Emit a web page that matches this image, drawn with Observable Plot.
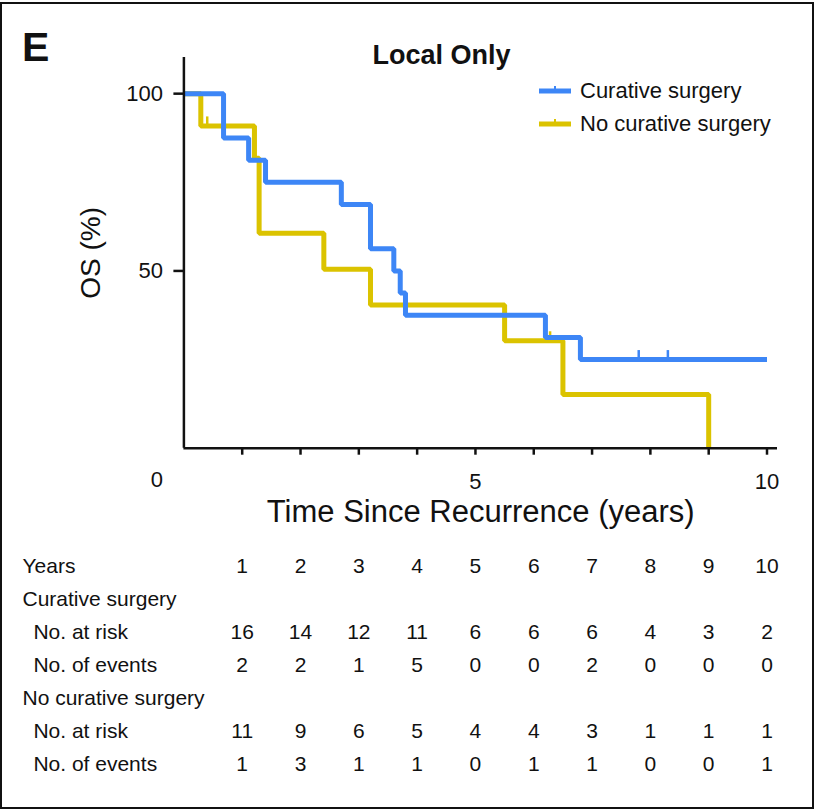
<!DOCTYPE html>
<html><head><meta charset="utf-8">
<script src="https://cdn.jsdelivr.net/npm/d3@7"></script>
<script src="https://cdn.jsdelivr.net/npm/@observablehq/plot@0.6"></script>
<style>
html,body{margin:0;padding:0;background:#fff;}
#fig{position:relative;width:815px;height:811px;font-family:"Liberation Sans",Arial,sans-serif;color:#111;overflow:hidden;}
#frame{position:absolute;left:0;top:2px;width:814px;height:807px;border:2.5px solid #111;box-sizing:border-box;z-index:5;pointer-events:none;}
.abs{position:absolute;white-space:nowrap;}
#fig svg{background:transparent !important;display:block;}
#fig g[aria-label$="tick"] path, #fig .tick line{stroke-width:2.5px;stroke:#111;}
#fig g[aria-label$="axis"] path.domain{display:none;}
</style></head>
<body><div id="fig"><div id="frame"></div></div>
<script>
// ---- data ----
const survivalGroups = ["Curative surgery", "No curative surgery"];
const groupColors = ["#3d86f6", "#dbc300"];
const cureTime = [0, 0.68, 1.11, 1.40, 2.70, 3.20, 3.60, 3.71, 3.80, 6.20, 6.80, 10.0];
const cureSurv = [100, 87.5, 81.25, 75, 68.75, 56.25, 50, 43.75, 37.5, 31.25, 25, 25];
const cureCensorTime = [7.8, 8.3];
const cureCensorSurv = [25, 25];
const noCureTime = [0, 0.29, 1.21, 1.29, 2.40, 3.20, 5.50, 6.50, 9.00];
const noCureSurv = [100, 90.9, 81.8, 60.6, 50.5, 40.4, 30.3, 15.15, 0];
const noCureCensorTime = [0.40, 6.28];
const noCureCensorSurv = [90.9, 30.3];
const xTicks = [1, 2, 3, 4, 5, 6, 7, 8, 9, 10];
const xTickLabels = [0, 5, 10];
const yTicks = [50, 100];
const chartTitle = "Local Only";
const panelLetter = "E";
const xTitle = "Time Since Recurrence (years)";
const yTitle = "OS (%)";
// risk table
const tableYears = [1, 2, 3, 4, 5, 6, 7, 8, 9, 10];
const cureAtRisk = [16, 14, 12, 11, 6, 6, 6, 4, 3, 2];
const cureEvents = [2, 2, 1, 5, 0, 0, 2, 0, 0, 0];
const noCureAtRisk = [11, 9, 6, 5, 4, 4, 3, 1, 1, 1];
const noCureEvents = [1, 3, 1, 1, 0, 1, 1, 0, 0, 1];
const rowIds = ["years", "cureHead", "cureRisk", "cureEvents", "noCureHead", "noCureRisk", "noCureEvents"];
const rowLabels = ["Years", "Curative surgery", "No. at risk", "No. of events", "No curative surgery", "No. at risk", "No. of events"];
const rowIndented = [false, false, true, true, false, true, true];

// ---- build tables ----
const curveCure = cureTime.map((t, i) => ({group: survivalGroups[0], t, s: cureSurv[i]}));
const curveNoCure = noCureTime.map((t, i) => ({group: survivalGroups[1], t, s: noCureSurv[i]}));
const censCure = cureCensorTime.map((t, i) => ({group: survivalGroups[0], t, s: cureCensorSurv[i]}));
const censNoCure = noCureCensorTime.map((t, i) => ({group: survivalGroups[1], t, s: noCureCensorSurv[i]}));

const xDomain = [0, 10.18];
const font = "Liberation Sans, Arial, sans-serif";

const plot1 = Plot.plot({
  width: 815, height: 540,
  marginLeft: 183.4, marginRight: 38, marginTop: 57, marginBottom: 92.3,
  style: {fontFamily: font, fontSize: "22px", color: "#111", background: "transparent"},
  x: {domain: xDomain, ticks: xTicks, tickFormat: d => xTickLabels.includes(d) ? String(d) : "", tickSize: 7, tickPadding: 18, label: null},
  y: {domain: [0, 110.2], ticks: yTicks, tickSize: 10, tickPadding: 11, label: null},
  color: {domain: survivalGroups, range: groupColors},
  marks: [
    Plot.line(curveNoCure, {x: "t", y: "s", stroke: "group", curve: "step-after", strokeWidth: 5, strokeLinejoin: "miter", strokeLinecap: "butt"}),
    Plot.ruleX(censNoCure, {x: "t", y1: "s", y2: "s", stroke: "group", strokeWidth: 2.5, insetTop: -9}),
    Plot.line(curveCure, {x: "t", y: "s", stroke: "group", curve: "step-after", strokeWidth: 5, strokeLinejoin: "miter", strokeLinecap: "butt"}),
    Plot.ruleX(censCure, {x: "t", y1: "s", y2: "s", stroke: "group", strokeWidth: 2.5, insetTop: -9}),
    Plot.ruleX([0], {stroke: "#111", strokeWidth: 2.5}),
    Plot.ruleY([0], {stroke: "#111", strokeWidth: 2.5}),
    Plot.text([xTickLabels[0]], {x: d => d, y: 0, text: d => String(d), dx: -27, dy: 32, fontSize: 22, fill: "#111"}),
    Plot.text([xTitle], {frameAnchor: "bottom", dy: 74, fontSize: 31, fill: "#111"}),
    Plot.text([yTitle], {frameAnchor: "left", textAnchor: "middle", rotate: -90, dx: -93, fontSize: 28, fill: "#111"})
  ]
});

// risk table plot
const cellRows = [
  {row: "years", vals: tableYears},
  {row: "cureRisk", vals: cureAtRisk},
  {row: "cureEvents", vals: cureEvents},
  {row: "noCureRisk", vals: noCureAtRisk},
  {row: "noCureEvents", vals: noCureEvents}
];
const cells = cellRows.flatMap(r => r.vals.map((v, i) => ({row: r.row, year: tableYears[i], value: String(v)})));
const labelRows = rowIds.map((id, i) => ({row: id, label: rowLabels[i], indent: rowIndented[i]}));

const plot2 = Plot.plot({
  width: 815, height: 271,
  marginLeft: 183.4, marginRight: 38, marginTop: 25, marginBottom: 47,
  style: {fontFamily: font, fontSize: "21px", color: "#111", background: "transparent"},
  x: {domain: xDomain, axis: null},
  y: {type: "point", domain: rowIds, padding: 0, axis: null},
  marks: [
    Plot.text(cells, {x: "year", y: "row", text: "value", fontSize: 21, fill: "#111"}),
    Plot.text(labelRows.filter(d => !d.indent), {y: "row", text: "label", frameAnchor: "left", textAnchor: "start", dx: -161.4, fontSize: 21, fill: "#111"}),
    Plot.text(labelRows.filter(d => d.indent), {y: "row", text: "label", frameAnchor: "left", textAnchor: "start", dx: -150.5, fontSize: 21, fill: "#111"})
  ]
});

const fig = document.getElementById("fig");
fig.appendChild(plot1);
fig.appendChild(plot2);

// overlays: panel letter, title, legend
function addText(txt, left, baseline, size, weight, extra) {
  const d = document.createElement("div");
  d.className = "abs";
  d.textContent = txt;
  d.style.fontSize = size + "px";
  d.style.lineHeight = size + "px";
  d.style.fontWeight = weight;
  d.style.top = (baseline - 0.8465 * size) + "px";
  d.style.left = left + "px";
  if (extra) Object.assign(d.style, extra);
  fig.appendChild(d);
  return d;
}
addText(panelLetter, 22, 62, 41, "bold");
addText(chartTitle, 341.5, 65, 27, "bold", {width: "200px", textAlign: "center"});

survivalGroups.forEach((g, i) => {
  const cy = 90.7 + i * 33.3;
  const sw = document.createElementNS("http://www.w3.org/2000/svg", "svg");
  sw.setAttribute("width", 40); sw.setAttribute("height", 20);
  sw.style.position = "absolute"; sw.style.left = "535px"; sw.style.top = (cy - 10) + "px";
  sw.innerHTML = `<line x1="4" x2="36" y1="10" y2="10" stroke="${groupColors[i]}" stroke-width="5"/>` +
                 `<line x1="20" x2="20" y1="10" y2="5" stroke="${groupColors[i]}" stroke-width="2"/>`;
  fig.appendChild(sw);
  addText(g, 580, cy + 0.358 * 22, 22, "normal");
});
</script>
</body></html>
